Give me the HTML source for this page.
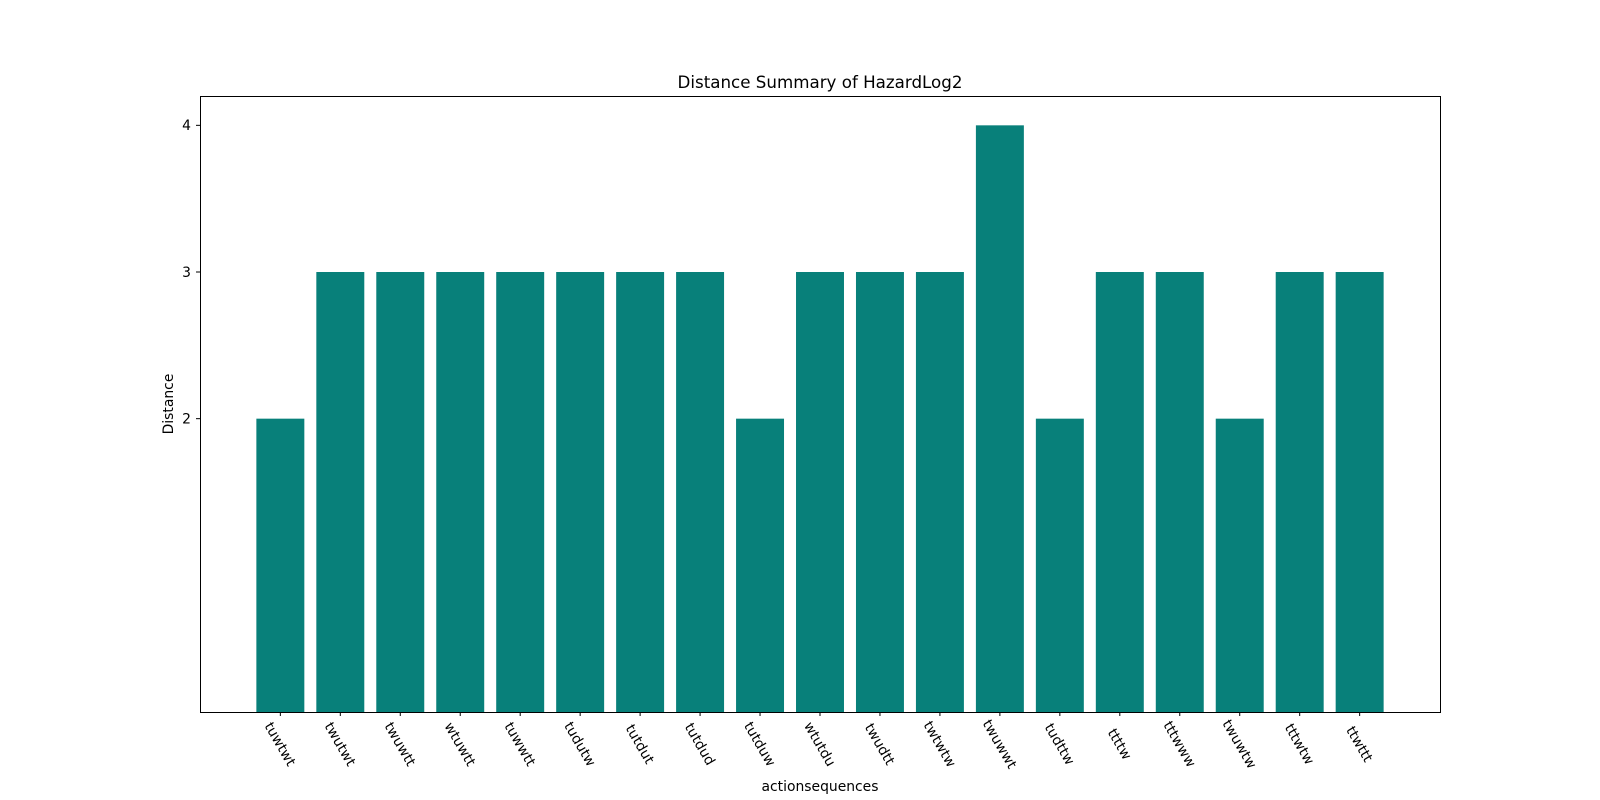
<!DOCTYPE html>
<html><head><meta charset="utf-8"><style>
html,body{margin:0;padding:0;background:#fff;overflow:hidden;width:1600px;height:800px;}
svg{display:block;}
svg text{font-family:"DejaVu Sans","Liberation Sans",sans-serif;fill:#000;}
</style></head><body>
<svg id="chart" width="1600" height="800" viewBox="0 0 1600 800" xmlns="http://www.w3.org/2000/svg">
<rect width="1600" height="800" fill="#fff"/>
<text x="820" y="88" font-size="16.7" text-anchor="middle">Distance Summary of HazardLog2</text>
<g id="bars"></g>
<g id="xticks"></g>
<g id="yticks"></g>
<rect x="200.5" y="96.5" width="1240" height="616" fill="none" stroke="#000" stroke-width="1"/>
<text x="820" y="791" font-size="13.9" text-anchor="middle">actionsequences</text>
<text transform="translate(173,404) rotate(-90)" font-size="13.9" text-anchor="middle">Distance</text>
</svg>
<script>
const categories=["tuwtwt","twutwt","twuwtt","wtuwtt","tuwwtt","tudutw","tutdut","tutdud","tutduw","wtutdu","twudtt","twtwtw","twuwwt","tudttw","ttttw","tttwww","twuwtw","tttwtw","ttwttt"];
const values=[2,3,3,3,3,3,3,3,2,3,3,3,4,2,3,3,2,3,3];
const yTicks=[2,3,4];
const L=200,R=1440,T=96,B=712;
const xmin=-0.4-0.94,xmax=categories.length-1+0.4+0.94;
const ymin=0,ymax=4.2;
const xs=v=>L+(v-xmin)/(xmax-xmin)*(R-L);
const ys=v=>B-(v-ymin)/(ymax-ymin)*(B-T);
const NS="http://www.w3.org/2000/svg";
const bars=document.getElementById('bars'),xt=document.getElementById('xticks'),yt=document.getElementById('yticks');
categories.forEach((c,i)=>{
 const r=document.createElementNS(NS,'rect');
 const x0=xs(i-0.4),x1=xs(i+0.4);
 r.setAttribute('x',x0);r.setAttribute('width',x1-x0);
 r.setAttribute('y',ys(values[i]));r.setAttribute('height',ys(0)-ys(values[i]));
 r.setAttribute('fill','#08807a');
 
 
 bars.appendChild(r);
 const tx=xs(i);
 const l=document.createElementNS(NS,'line');
 l.setAttribute('x1',tx);l.setAttribute('x2',tx);l.setAttribute('y1',B+0.5);l.setAttribute('y2',B+4);l.setAttribute('stroke','#000');
 
 
 xt.appendChild(l);
 const t=document.createElementNS(NS,'text');
 t.setAttribute('transform','translate('+tx+',744) rotate(60)');
 t.setAttribute('text-anchor','middle');t.setAttribute('dy','0.35em');t.setAttribute('font-size','13.9');
 t.textContent=c;
 
 
 xt.appendChild(t);
});
yTicks.forEach(v=>{
 const y=ys(v);
 const l=document.createElementNS(NS,'line');
 l.setAttribute('x1',L-4);l.setAttribute('x2',L+0.5);l.setAttribute('y1',y);l.setAttribute('y2',y);l.setAttribute('stroke','#000');
 
 
 yt.appendChild(l);
 const t=document.createElementNS(NS,'text');
 t.setAttribute('x',L-9);t.setAttribute('y',y);t.setAttribute('dy','0.35em');t.setAttribute('text-anchor','end');t.setAttribute('font-size','13.9');
 t.textContent=v;
 
 
 yt.appendChild(t);
});
</script>
</body></html>
